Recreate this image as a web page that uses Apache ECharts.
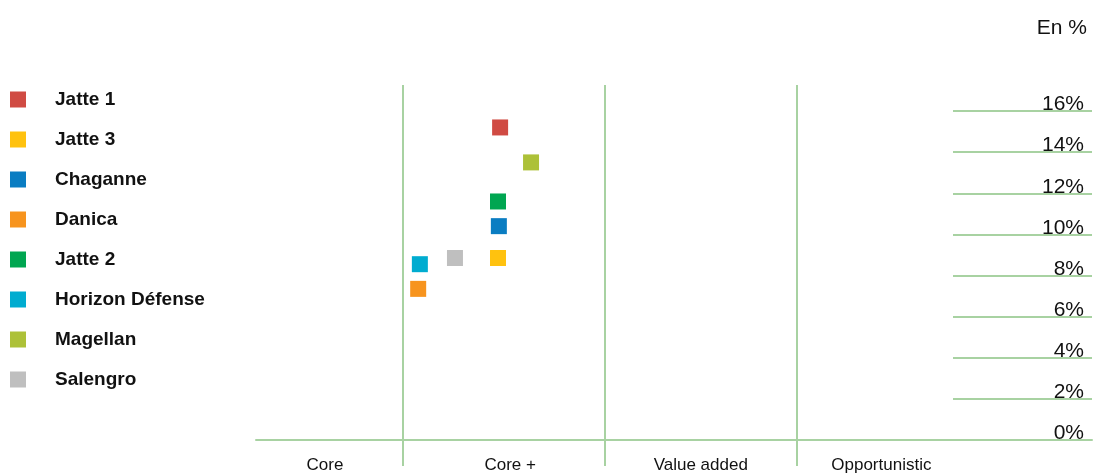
<!DOCTYPE html>
<html>
<head>
<meta charset="utf-8">
<script src="https://cdn.jsdelivr.net/npm/echarts@6/dist/echarts.min.js"></script>
<style>
html,body{margin:0;padding:0;background:#fff;}
#chart{width:1094px;height:475px;}
</style>
</head>
<body>
<div id="chart"></div>
<script>
// Categories on the horizontal (risk) scale, 0-100 units
const categories = ['Core', 'Core +', 'Value added', 'Opportunistic'];
const categoryLabelPos = [8.25, 30.4, 53.2, 74.8];
const categoryBounds = [17.6, 41.75, 64.7];

// Funds
const funds = ['Jatte 1', 'Jatte 3', 'Chaganne', 'Danica', 'Jatte 2', 'Horizon Défense', 'Magellan', 'Salengro'];
const fundRisk = [29.2, 28.95, 29.05, 19.4, 28.95, 19.6, 32.9, 23.8];
const fundReturn = [15.2, 8.85, 10.4, 7.35, 11.6, 8.55, 13.5, 8.85];
const fundColors = ['#D04B43', '#FFC20F', '#0A7DC2', '#F7941E', '#00A651', '#00ACD0', '#ADC138', '#BFBFBF'];

// Y axis ticks (percent)
const yMin = 0, yMax = 16, yStep = 2;

const FONT = '"Liberation Sans", Arial, sans-serif';
const GREEN = '#a8d2a2';

const chart = echarts.init(document.getElementById('chart'));

const series = funds.map((name, i) => ({
  name: name,
  type: 'scatter',
  xAxisIndex: 0,
  yAxisIndex: 0,
  symbol: 'rect',
  symbolSize: 16,
  itemStyle: { color: fundColors[i], opacity: 1 },
  data: [[fundRisk[i], fundReturn[i]]],
  z: 5
}));

series.push({
  type: 'scatter',
  xAxisIndex: 2,
  yAxisIndex: 2,
  data: [],
  silent: true,
  markLine: {
    silent: true,
    symbol: 'none',
    label: { show: false },
    lineStyle: { color: GREEN, width: 2, type: 'solid' },
    data: categoryBounds.map(v => ({ xAxis: v }))
  }
});

const option = {
  animation: false,
  backgroundColor: '#fff',
  textStyle: { fontFamily: FONT },
  title: {
    text: 'En %',
    right: 7,
    top: 18,
    padding: 0,
    textStyle: { fontFamily: FONT, fontSize: 21, fontWeight: 'normal', color: '#111' }
  },
  legend: {
    orient: 'vertical',
    left: 10,
    top: 90,
    padding: 0,
    itemWidth: 16,
    itemHeight: 16,
    itemGap: 21,
    icon: 'rect',
    data: funds,
    textStyle: {
      fontFamily: FONT,
      fontSize: 19,
      fontWeight: 'bold',
      color: '#111',
      lineHeight: 16,
      padding: [3, 0, 0, 24]
    }
  },
  grid: [
    { left: 256, right: 2, top: 111, bottom: 35 },
    { left: 953, right: 2, top: 111, bottom: 35 },
    { left: 256, right: 2, top: 85, bottom: 9 }
  ],
  xAxis: [
    {
      gridIndex: 0, type: 'value', min: 0, max: 100,
      axisLine: { show: true, lineStyle: { color: GREEN, width: 2 } },
      axisTick: { show: false },
      splitLine: { show: false },
      axisLabel: {
        show: true,
        customValues: categoryLabelPos,
        formatter: (v) => {
          const idx = categoryLabelPos.findIndex(p => Math.abs(p - v) < 1e-6);
          return idx >= 0 ? categories[idx] : '';
        },
        margin: 17,
        fontFamily: FONT,
        fontSize: 17,
        color: '#111'
      }
    },
    { gridIndex: 1, type: 'value', min: 0, max: 1, show: false },
    { gridIndex: 2, type: 'value', min: 0, max: 100, show: false }
  ],
  yAxis: [
    { gridIndex: 0, type: 'value', min: yMin, max: yMax, interval: yStep, show: false },
    {
      gridIndex: 1, type: 'value', min: yMin, max: yMax, interval: yStep,
      position: 'right',
      axisLine: { show: false },
      axisTick: { show: false },
      splitLine: { show: true, lineStyle: { color: GREEN, width: 2 } },
      axisLabel: {
        inside: true,
        margin: 8,
        formatter: '{value}%',
        fontFamily: FONT,
        fontSize: 21,
        color: '#111',
        verticalAlign: 'bottom',
        lineHeight: 13
      }
    },
    { gridIndex: 2, type: 'value', min: 0, max: 1, show: false }
  ],
  series: series
};

chart.setOption(option);
</script>
</body>
</html>
